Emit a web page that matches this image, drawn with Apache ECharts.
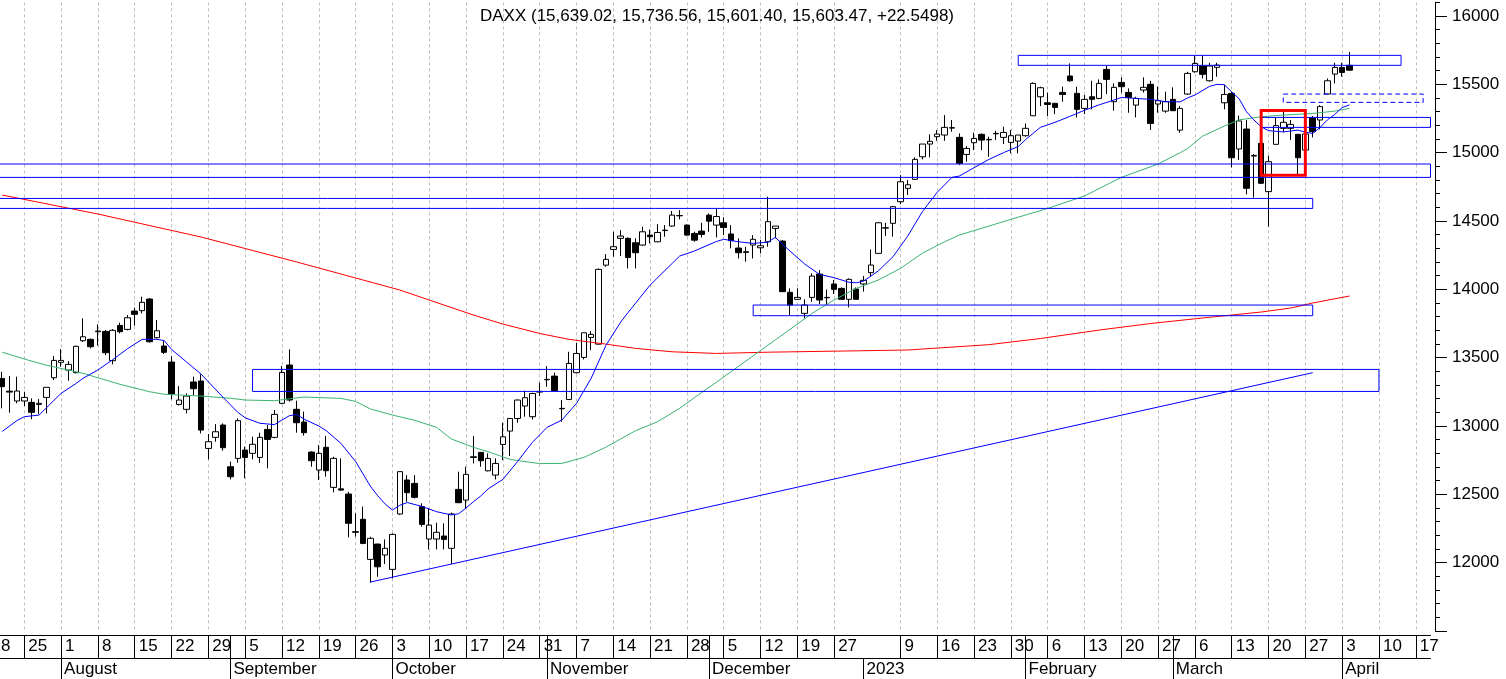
<!DOCTYPE html>
<html><head><meta charset="utf-8">
<script src="https://cdn.jsdelivr.net/npm/echarts@6/dist/echarts.min.js"></script>
<style>html,body{margin:0;padding:0;background:#fff}#c{width:1506px;height:679px}</style>
</head><body><div id="c"></div>
<script>
// ---------- categories (trading days, Xetra) ----------
const closedDays = ['2022-12-26'];
function tradingDays(start, end, skip) {
  const out = [];
  const d = new Date(start + 'T00:00:00Z');
  const e = new Date(end + 'T00:00:00Z');
  while (d <= e) {
    const wd = d.getUTCDay();
    const s = d.toISOString().slice(0, 10);
    if (wd !== 0 && wd !== 6 && skip.indexOf(s) < 0) out.push(s);
    d.setUTCDate(d.getUTCDate() + 1);
  }
  return out;
}
const categories = tradingDays('2022-07-18', '2023-04-19', closedDays);

// ---------- candles (from 2022-07-20 to 2023-04-04) ----------
const candleStart = '2022-07-20';
const opens = [
  13348,13255,13183,
  13183,13173,13158,13209,13353,
  13466,13409,13390,13624,13634,
  13690,13692,13478,13736,13707,
  13841,13844,13929,13646,13585,
  13468,13158,13122,13322,13329,
  12836,12917,13007,12702,12763,
  12824,12800,12770,12975,12917,
  13166,13446,13122,13029,12809,
  12678,12844,12551,12540,12502,
  12222,12317,12024,12136,12056,
  11951,12356,12605,12580,12410,
  12173,12173,12195,12105,12536,
  12458,12770,12807,12672,12641,
  12865,12963,13055,13146,13068,
  13248,13338,13365,13126,13194,
  13390,13502,13648,13599,14177,
  14292,14373,14373,14341,14324,
  14397,14348,14430,14463,14538,
  14470,14409,14426,14543,14470,
  14487,14405,14302,14270,14324,
  14304,14348,14446,14353,13978,
  13927,13824,13941,14112,13938,
  14039,14007,13927,14002,
  14039,14122,14263,14448,14483,
  14641,14739,14805,14970,15063,
  15117,15129,15180,15112,14987,
  15073,15134,15094,15138,15112,
  15075,15085,15124,15270,15409,
  15365,15361,15441,15561,15434,
  15324,15409,15397,15609,15373,
  15514,15441,15348,15458,15500,
  15356,15304,15390,15165,15429,
  15592,15634,15526,15624,15365,
  15434,15027,15173,14975,15068,
  14715,15061,15178,15178,15134,
  15019,15256,15239,15429,15575,
  15624,15639.02
];
const highs = [
  13397,13366,13361,
  13251,13202,13197,13283,13512,
  13563,13475,13588,13788,13640,
  13744,13702,13709,13756,13812,
  13866,13946,13935,13775,13629,
  13512,13292,13239,13361,13378,
  12941,13014,13019,12739,13056,
  12849,12922,12951,13007,13117,
  13439,13561,13185,13105,12815,
  12861,12927,12775,12763,12519,
  12361,12410,12190,12140,12170,
  12214,12666,12641,12641,12434,
  12397,12292,12288,12366,12666,
  12702,12926,12810,12800,12763,
  13024,13058,13194,13258,13243,
  13317,13438,13390,13190,13543,
  13609,13682,13694,14153,14258,
  14421,14433,14380,14373,14458,
  14438,14477,14470,14573,14580,
  14475,14421,14487,14555,14588,
  14527,14470,14373,14312,14397,
  14361,14678,14463,14360,14007,
  14007,13927,14117,14141,13999,
  14068,14014,14080,14014,
  14097,14292,14490,14487,14609,
  14836,14800,14966,15063,15134,
  15165,15275,15239,15141,15048,
  15146,15141,15117,15160,15190,
  15166,15129,15214,15514,15483,
  15439,15365,15483,15653,15483,
  15422,15526,15536,15634,15507,
  15551,15470,15409,15551,15526,
  15483,15446,15478,15341,15592,
  15709,15709,15658,15658,15495,
  15446,15271,15239,14990,15080,
  14978,15256,15300,15239,15134,
  15150,15268,15348,15543,15658,
  15658,15736.56
];
const lows = [
  13129,13097,13166,
  13146,13049,13088,13092,13336,
  13434,13331,13385,13615,13568,
  13588,13519,13451,13678,13700,
  13734,13824,13610,13640,13527,
  13195,13150,13092,13227,12946,
  12756,12885,12819,12609,12731,
  12617,12756,12731,12690,12910,
  13160,13178,12951,12929,12702,
  12605,12629,12514,12525,12185,
  12190,12135,11853,11897,11990,
  11885,12350,12446,12470,12263,
  12097,12097,12097,11990,12435,
  12397,12726,12702,12668,12609,
  12751,12780,13024,13068,13048,
  13219,13287,13255,13031,13190,
  13385,13487,13555,13595,14165,
  14238,14243,14153,14153,14320,
  14336,14345,14385,14460,14512,
  14390,14348,14380,14421,14380,
  14397,14300,14226,14202,14226,
  14263,14312,14373,13983,13812,
  13922,13787,13909,13892,13885,
  13966,13922,13868,13927,
  13983,14097,14263,14390,14385,
  14624,14690,14800,14951,14966,
  15087,15087,15153,14909,14934,
  15019,15019,14970,15092,15063,
  14995,14995,15117,15268,15341,
  15268,15282,15373,15519,15258,
  15282,15317,15390,15429,15307,
  15439,15292,15258,15439,15166,
  15292,15292,15307,15146,15422,
  15585,15543,15519,15556,15317,
  14892,14946,14695,14671,14770,
  14459,15061,15149,15093,14841,
  15000,15112,15170,15429,15507,
  15556,15601.40
];
const closes = [
  13288,13248,13256,
  13209,13100,13166,13283,13480,
  13480,13451,13583,13653,13580,
  13695,13536,13700,13690,13792,
  13817,13905,13617,13697,13539,
  13234,13190,13219,13273,12970,
  12885,12958,12841,12629,13039,
  12770,12866,12917,12902,13085,
  13392,13190,13024,12951,12746,
  12800,12673,12763,12531,12288,
  12227,12141,12178,11970,12105,
  12207,12666,12512,12478,12280,
  12275,12222,12170,12356,12439,
  12646,12775,12746,12763,12726,
  12921,13055,13190,13207,13238,
  13253,13341,13258,13129,13458,
  13531,13682,13670,14146,14219,
  14312,14390,14233,14268,14421,
  14385,14416,14433,14543,14540,
  14397,14360,14402,14499,14533,
  14453,14356,14268,14275,14366,
  14319,14495,14463,13983,13885,
  13941,13885,14097,13922,13941,
  14000,13927,14073,13927,
  14066,14178,14487,14451,14605,
  14787,14765,14951,15063,15083,
  15136,15185,15183,14922,15031,
  15104,15092,15097,15141,15148,
  15124,15129,15178,15507,15475,
  15353,15331,15426,15526,15317,
  15390,15390,15507,15536,15478,
  15483,15404,15397,15478,15214,
  15380,15373,15307,15324,15580,
  15653,15573,15634,15641,15426,
  14963,15232,14739,14980,14776,
  14934,15198,15222,15207,14963,
  15137,15154,15337,15526,15624,
  15587,15603.47
];
const titleText = 'DAXX (15,639.02, 15,736.56, 15,601.40, 15,603.47, +22.5498)';

// ---------- moving averages ----------
const blueMaDates = ['2022-07-20','2022-07-22','2022-07-25','2022-07-27','2022-08-01','2022-08-03','2022-08-04','2022-08-08','2022-08-10','2022-08-12','2022-08-16','2022-08-18','2022-08-19','2022-08-22','2022-08-24','2022-08-26','2022-08-31','2022-09-02','2022-09-05','2022-09-07','2022-09-09','2022-09-12','2022-09-13','2022-09-14','2022-09-15','2022-09-19','2022-09-20','2022-09-22','2022-09-26','2022-09-28','2022-09-29','2022-09-30','2022-10-03','2022-10-04','2022-10-05','2022-10-07','2022-10-11','2022-10-13','2022-10-14','2022-10-17','2022-10-18','2022-10-19','2022-10-20','2022-10-24','2022-10-26','2022-10-28','2022-11-01','2022-11-03','2022-11-07','2022-11-09','2022-11-11','2022-11-15','2022-11-16','2022-11-21','2022-11-24','2022-11-25','2022-11-29','2022-12-02','2022-12-05','2022-12-07','2022-12-09','2022-12-13','2022-12-14','2022-12-16','2022-12-20','2022-12-22','2022-12-27','2022-12-29','2022-12-30','2023-01-02','2023-01-04','2023-01-06','2023-01-10','2023-01-12','2023-01-16','2023-01-18','2023-01-19','2023-01-23','2023-01-25','2023-01-27','2023-01-31','2023-02-01','2023-02-03','2023-02-07','2023-02-09','2023-02-13','2023-02-15','2023-02-17','2023-02-20','2023-02-22','2023-02-24','2023-02-28','2023-03-02','2023-03-03','2023-03-06','2023-03-08','2023-03-09','2023-03-10','2023-03-13','2023-03-14','2023-03-15','2023-03-16','2023-03-17','2023-03-20','2023-03-22','2023-03-24','2023-03-27','2023-03-28','2023-03-29','2023-03-30','2023-03-31','2023-04-03','2023-04-04'];
const blueMaValues = [12960,13040,13068,13080,13239,13310,13350,13410,13485,13565,13634,13634,13625,13560,13470,13380,13210,13100,13060,13020,13010,13044,13075,13085,13050,13000,12966,12873,12740,12560,12490,12430,12385,12420,12440,12412,12373,12349,12358,12400,12446,12488,12540,12609,12740,12880,12990,13043,13165,13350,13590,13760,13830,14031,14190,14243,14280,14350,14366,14348,14336,14345,14380,14280,14185,14110,14085,14052,14048,14060,14135,14239,14390,14570,14710,14819,14829,14890,14950,15000,15045,15095,15185,15222,15265,15310,15350,15385,15404,15397,15390,15373,15372,15400,15422,15485,15500,15497,15445,15395,15300,15240,15190,15161,15152,15165,15150,15141,15185,15240,15280,15330,15350];

const greenMaDates = ['2022-07-20','2022-07-25','2022-07-28','2022-08-04','2022-08-11','2022-08-17','2022-08-19','2022-08-26','2022-09-01','2022-09-05','2022-09-09','2022-09-15','2022-09-22','2022-09-26','2022-09-28','2022-10-03','2022-10-06','2022-10-11','2022-10-13','2022-10-18','2022-10-20','2022-10-25','2022-10-31','2022-11-03','2022-11-08','2022-11-11','2022-11-17','2022-11-22','2022-11-25','2022-11-30','2022-12-02','2022-12-16','2022-12-21','2022-12-27','2022-12-30','2023-01-04','2023-01-09','2023-01-12','2023-01-17','2023-01-19','2023-01-30','2023-02-06','2023-02-13','2023-02-20','2023-02-27','2023-03-02','2023-03-03','2023-03-07','2023-03-10','2023-03-14','2023-03-17','2023-03-22','2023-03-28','2023-03-31','2023-04-04'];
const greenMaValues = [13540,13490,13445,13385,13305,13251,13232,13219,13203,13190,13185,13212,13202,13180,13125,13080,13042,12990,12905,12844,12812,12755,12725,12726,12770,12845,12965,13031,13129,13245,13320,13707,13824,13922,14007,14068,14153,14265,14348,14397,14512,14592,14683,14819,14917,15000,15030,15120,15195,15240,15263,15275,15287,15304,15324];

const redMaDates = ['2022-07-20','2022-08-08','2022-08-26','2022-09-14','2022-10-04','2022-10-18','2022-10-24','2022-10-31','2022-11-04','2022-11-11','2022-11-17','2022-11-24','2022-12-02','2022-12-13','2022-12-30','2023-01-10','2023-01-25','2023-02-03','2023-02-15','2023-02-24','2023-03-07','2023-03-17','2023-03-23','2023-03-28','2023-04-04'];
const redMaValues = [14690,14551,14383,14200,13995,13812,13746,13677,13634,13599,13568,13543,13531,13540,13550,13556,13595,13640,13702,13750,13790,13834,13863,13900,13951];

// ---------- drawn zones and trendline: [start, end, upper, lower] ----------
const solidZones = [
  ['2023-01-31','2023-04-13',15712,15639],
  ['2023-03-17','2023-04-19',15258,15185],
  ['2022-07-18','2023-04-19',14917,14819],
  ['2022-07-18','2023-03-28',14665,14592],
  ['2022-09-06','2023-04-10',13414,13253],
  ['2022-12-09','2023-03-28',13885,13807]
];
const dashedZones = [['2023-03-22','2023-04-18',15429,15368]];
const redZones = [['2023-03-17','2023-03-27',15309,14834]];
const trendLine = [['2022-09-28',11858],['2023-03-28',13390]];

// ---------- axis labels ----------
const yearLabelDate = '2023-01-02';
const monthLabels = ['August','September','October','November','December','2023','February','March','April'];
const yLabelValues = [12000,12500,13000,13500,14000,14500,15000,15500,16000];
const yMajorTicks = [11500,12000,12500,13000,13500,14000,14500,15000,15500,16000];

// ---------- derived ----------
const startIdx = categories.indexOf(candleStart);
const candleData = categories.map((d, i) => {
  const k = i - startIdx;
  if (k < 0 || k >= closes.length) return '-';
  return [opens[k], closes[k], lows[k], highs[k]];
});
function sparse(dates, values) {
  const arr = categories.map(() => '-');
  dates.forEach((d, j) => { const i = categories.indexOf(d); if (i >= 0) arr[i] = values[j]; });
  return arr;
}
const dow = categories.map(d => new Date(d + 'T00:00:00Z').getUTCDay());
const isWeekStart = categories.map((d, i) => (i === 0 || dow[i] <= dow[i - 1]) && d !== yearLabelDate);
const isMonthStart = categories.map((d, i) => i > 0 && d.slice(5, 7) !== categories[i - 1].slice(5, 7));
const monthLabelMap = {};
let mk = 0;
categories.forEach((d, i) => { if (isMonthStart[i]) monthLabelMap[d] = monthLabels[mk++]; });

const FONT = 'Arial, "Liberation Sans", sans-serif';
function zoneData(zones, style) {
  return zones.map(z => [
    { xAxis: z[0], yAxis: z[2], itemStyle: style },
    { xAxis: z[1], yAxis: z[3] }
  ]);
}
const blueBox = { color: 'rgba(0,0,0,0)', borderColor: '#0000ff', borderWidth: 1 };
const dashBox = { color: 'rgba(0,0,0,0)', borderColor: '#0000ff', borderWidth: 1, borderType: [5, 3] };
const redBox = { color: 'rgba(0,0,0,0)', borderColor: '#ff0000', borderWidth: 3 };

const chart = echarts.init(document.getElementById('c'), null, { renderer: 'canvas' });
chart.setOption({
  animation: false,
  backgroundColor: '#ffffff',
  title: {
    text: titleText, left: 717, top: 8, textAlign: 'center', padding: 0,
    textStyle: { fontSize: 17, fontWeight: 'normal', color: '#000', fontFamily: FONT }
  },
  grid: { left: -12.5, right: 75.5, top: 2.333, bottom: 48, containLabel: false, outerBoundsMode: 'none' },
  xAxis: [
    {
      type: 'category', data: categories, boundaryGap: false, position: 'bottom', offset: 4,
      axisLine: { show: true, lineStyle: { color: '#000', width: 1 } },
      axisTick: { show: true, length: 23, lineStyle: { color: '#000', width: 1 },
        interval: (i, v) => isWeekStart[i] || (isMonthStart[i] && v !== yearLabelDate) },
      axisLabel: { show: true, interval: (i) => isWeekStart[i], align: 'left', padding: [0, 0, 0, 4],
        margin: 3, fontSize: 17, color: '#000', fontFamily: FONT,
        formatter: (v) => String(Number(v.slice(8, 10))) },
      splitLine: { show: true, interval: (i) => isWeekStart[i],
        lineStyle: { color: '#bdbdbd', width: 1, type: [3, 3] } }
    },
    {
      type: 'category', data: categories, boundaryGap: false, position: 'bottom', offset: 27,
      axisLine: { show: true, lineStyle: { color: '#000', width: 1 } },
      axisTick: { show: true, length: 21, lineStyle: { color: '#000', width: 1 },
        interval: (i) => isMonthStart[i] },
      axisLabel: { show: true, interval: (i) => isMonthStart[i], align: 'left', padding: [0, 0, 0, 3],
        margin: 3, fontSize: 17, color: '#000', fontFamily: FONT,
        formatter: (v) => monthLabelMap[v] || '' },
      splitLine: { show: false }
    }
  ],
  yAxis: [
    {
      type: 'value', position: 'right', offset: 4.5, min: 11500, max: 16100, interval: 100,
      axisLine: { show: true, onZero: false, lineStyle: { color: '#000', width: 1 } },
      axisTick: { show: true, length: 5, lineStyle: { color: '#000', width: 1 } },
      axisLabel: { show: true, margin: 17, fontSize: 17, color: '#000', fontFamily: FONT,
        formatter: (v) => (yLabelValues.indexOf(v) >= 0 ? String(v) : '') },
      splitLine: { show: false }
    },
    {
      type: 'value', position: 'right', offset: 4.5, min: 11500, max: 16100,
      axisLine: { show: false },
      axisTick: { show: true, length: 12, customValues: yMajorTicks, lineStyle: { color: '#000', width: 1 } },
      axisLabel: { show: false },
      splitLine: { show: false }
    }
  ],
  series: [
    {
      type: 'candlestick', name: 'DAXX', xAxisIndex: 0, yAxisIndex: 0, data: candleData,
      barWidth: 6, silent: true, z: 2,
      itemStyle: { color: '#ffffff', color0: '#000000', borderColor: '#000000', borderColor0: '#000000', borderWidth: 1 }
    },
    {
      type: 'line', name: 'MA200', data: sparse(redMaDates, redMaValues), connectNulls: true,
      showSymbol: false, symbol: 'none', silent: true, z: 3,
      lineStyle: { color: '#ff0000', width: 1 }
    },
    {
      type: 'line', name: 'MA50', data: sparse(greenMaDates, greenMaValues), connectNulls: true,
      showSymbol: false, symbol: 'none', silent: true, z: 3,
      lineStyle: { color: '#3cb371', width: 1 }
    },
    {
      type: 'line', name: 'MA10', data: sparse(blueMaDates, blueMaValues), connectNulls: true,
      showSymbol: false, symbol: 'none', silent: true, z: 4,
      lineStyle: { color: '#0000ff', width: 1 },
      markArea: {
        silent: true, z: 10, label: { show: false },
        data: zoneData(solidZones, blueBox).concat(zoneData(dashedZones, dashBox)).concat(zoneData(redZones, redBox))
      },
      markLine: {
        silent: true, z: 10, symbol: ['none', 'none'], label: { show: false },
        lineStyle: { color: '#0000ff', width: 1, type: 'solid' },
        data: [[{ coord: trendLine[0] }, { coord: trendLine[1] }]]
      }
    }
  ]
});
</script>
</body></html>
